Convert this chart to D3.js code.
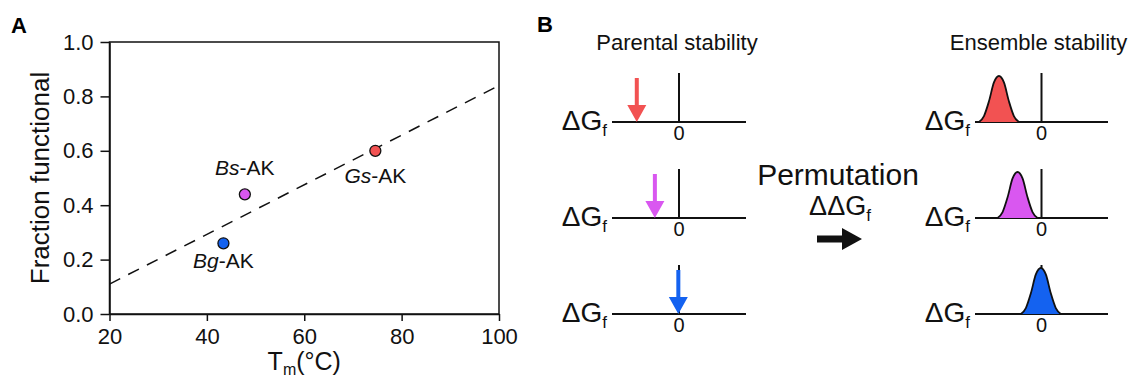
<!DOCTYPE html>
<html>
<head>
<meta charset="utf-8">
<script src="https://cdn.jsdelivr.net/npm/d3@7"></script>
<style>
  html, body { margin: 0; padding: 0; background: #fff; }
  svg { display: block; font-family: "Liberation Sans", Arial, Helvetica, sans-serif; }
</style>
</head>
<body>
<div id="chart"></div>
<script>
// ---- panel A data ----
const strains = ["Bg-AK", "Bs-AK", "Gs-AK"];
const tm = [43.4, 47.8, 74.6];
const fracFunctional = [0.26, 0.44, 0.60];
const strainColors = ["#1462f0", "#d957f0", "#f25252"];
const fitX = [20, 100];
const fitY = [0.11, 0.84];
const xTicks = [20, 40, 60, 80, 100];
const yTicks = [0.0, 0.2, 0.4, 0.6, 0.8, 1.0];

// ---- panel B data (rows top to bottom: Gs, Bs, Bg) ----
const rowStrains = ["Gs-AK", "Bs-AK", "Bg-AK"];
const rowColors = ["#f25252", "#d957f0", "#1462f0"];
const parentalDG = [-0.63, -0.36, -0.01];
const ensembleMean = [-0.64, -0.36, -0.01];
// bump profile: offset from mean, relative height
const bumpOffset = [-0.3, -0.225, -0.15, -0.075, 0, 0.075, 0.15, 0.225, 0.3];
const bumpHeight = [0, 0.13, 0.45, 0.86, 1, 0.86, 0.45, 0.13, 0];

const width = 1129;
const height = 379;

const svg = d3.select("#chart")
    .append("svg")
    .attr("width", width)
    .attr("height", height);

// ================= panel A =================
const plot = { left: 109.5, right: 499, top: 42, bottom: 314 };

const xScale = d3.scaleLinear()
    .domain([20, 100])
    .range([plot.left, plot.right]);

const yScale = d3.scaleLinear()
    .domain([0, 1])
    .range([plot.bottom, plot.top]);

svg.append("text")
    .attr("x", 11)
    .attr("y", 33)
    .attr("font-size", "22px")
    .attr("font-weight", "bold")
    .text("A");

// frame
svg.append("rect")
    .attr("x", plot.left)
    .attr("y", plot.top)
    .attr("width", plot.right - plot.left)
    .attr("height", plot.bottom - plot.top)
    .attr("fill", "none")
    .attr("stroke", "#111")
    .attr("stroke-width", 1.5);

const xAxis = svg.append("g")
    .attr("transform", `translate(0, ${plot.bottom})`)
    .call(d3.axisBottom(xScale).tickValues(xTicks).tickSizeInner(7).tickSizeOuter(0).tickPadding(7));

const yAxis = svg.append("g")
    .attr("transform", `translate(${plot.left}, 0)`)
    .call(d3.axisLeft(yScale).tickValues(yTicks).tickFormat(d3.format(".1f")).tickSizeInner(9).tickSizeOuter(0).tickPadding(7));

[xAxis, yAxis].forEach(ax => {
    ax.select(".domain").attr("stroke", "#111").attr("stroke-width", 1.5);
    ax.selectAll(".tick line").attr("stroke", "#111").attr("stroke-width", 1.5);
    ax.selectAll(".tick text")
        .attr("fill", "#111")
        .attr("font-size", "22px")
        .attr("font-family", "Liberation Sans, Arial, sans-serif");
});

// axis titles
svg.append("text")
    .attr("transform", `translate(49, ${(plot.top + plot.bottom) / 2}) rotate(-90)`)
    .attr("text-anchor", "middle")
    .attr("font-size", "26px")
    .attr("fill", "#111")
    .text("Fraction functional");

const xTitle = svg.append("text")
    .attr("x", (plot.left + plot.right) / 2)
    .attr("y", 370)
    .attr("text-anchor", "middle")
    .attr("font-size", "25px")
    .attr("fill", "#111");
xTitle.append("tspan").text("T");
xTitle.append("tspan").attr("font-size", "16px").attr("dy", 5).text("m");
xTitle.append("tspan").attr("dy", -5).text("(\u00B0C)");

// regression line
const fitLine = d3.line()
    .x(d => xScale(d[0]))
    .y(d => yScale(d[1]));

svg.append("path")
    .datum(d3.zip(fitX, fitY))
    .attr("d", fitLine)
    .attr("fill", "none")
    .attr("stroke", "#111")
    .attr("stroke-width", 1.5)
    .attr("stroke-dasharray", "12,9");

// points
const points = strains.map((s, i) => ({ name: s, x: tm[i], y: fracFunctional[i], color: strainColors[i] }));

svg.selectAll("circle.pt")
    .data(points)
    .enter()
    .append("circle")
    .attr("class", "pt")
    .attr("cx", d => xScale(d.x))
    .attr("cy", d => yScale(d.y))
    .attr("r", 5.5)
    .attr("fill", d => d.color)
    .attr("stroke", "#111")
    .attr("stroke-width", 1.3);

// label offset (px) from each point
const labelDy = { "Bg-AK": 25, "Bs-AK": -19, "Gs-AK": 32 };

points.forEach(p => {
    const parts = p.name.split("-");
    const lbl = svg.append("text")
        .attr("x", xScale(p.x))
        .attr("y", yScale(p.y) + labelDy[p.name])
        .attr("text-anchor", "middle")
        .attr("font-size", "21px")
        .attr("fill", "#111");
    lbl.append("tspan").attr("font-style", "italic").text(parts[0]);
    lbl.append("tspan").text("-" + parts[1]);
});

// ================= panel B =================
svg.append("text")
    .attr("x", 537)
    .attr("y", 32)
    .attr("font-size", "22px")
    .attr("font-weight", "bold")
    .text("B");

const rowScale = d3.scalePoint()
    .domain(d3.range(rowStrains.length))
    .range([122, 314]);

const leftDG = d3.scaleLinear().domain([-1, 1]).range([612, 746]);
const rightDG = d3.scaleLinear().domain([-1, 1]).range([975, 1108]);
const bumpScale = d3.scaleLinear().domain([0, 1]).range([0, -46]);

svg.append("text")
    .attr("x", leftDG(0) - 2)
    .attr("y", 50)
    .attr("text-anchor", "middle")
    .attr("font-size", "22px")
    .attr("fill", "#111")
    .text("Parental stability");

svg.append("text")
    .attr("x", rightDG(0) - 3)
    .attr("y", 50)
    .attr("text-anchor", "middle")
    .attr("font-size", "22px")
    .attr("fill", "#111")
    .text("Ensemble stability");

function drawAxis(g, scale) {
    g.append("line")
        .attr("x1", scale(-1)).attr("x2", scale(1))
        .attr("y1", 0).attr("y2", 0)
        .attr("stroke", "#111").attr("stroke-width", 2);
    g.append("line")
        .attr("x1", scale(0)).attr("x2", scale(0))
        .attr("y1", 0).attr("y2", -49)
        .attr("stroke", "#111").attr("stroke-width", 2);
    g.append("text")
        .attr("x", scale(0))
        .attr("y", 18)
        .attr("text-anchor", "middle")
        .attr("font-size", "20px")
        .attr("fill", "#111")
        .text("0");
    const dg = g.append("text")
        .attr("x", scale(-1) - 5)
        .attr("y", 8)
        .attr("text-anchor", "end")
        .attr("font-size", "28px")
        .attr("fill", "#111");
    dg.append("tspan").text("\u0394G");
    dg.append("tspan").attr("font-size", "17px").attr("dy", 6).text("f");
}

const bumpArea = d3.area()
    .x(d => d.x)
    .y0(0)
    .y1(d => bumpScale(d.h))
    .curve(d3.curveMonotoneX);

const bumpLine = d3.line()
    .x(d => d.x)
    .y(d => bumpScale(d.h))
    .curve(d3.curveMonotoneX);

rowStrains.forEach((s, i) => {
    // parental: arrow pointing at the value
    const gl = svg.append("g").attr("transform", `translate(0, ${rowScale(i)})`);
    drawAxis(gl, leftDG);
    const ax = leftDG(parentalDG[i]);
    const shaft = 2, head = 9.5, headLen = 17, len = 44;
    gl.append("path")
        .attr("d", `M${ax - shaft},${-len} L${ax + shaft},${-len} L${ax + shaft},${-headLen} L${ax + head},${-headLen} L${ax},0 L${ax - head},${-headLen} L${ax - shaft},${-headLen} Z`)
        .attr("fill", rowColors[i]);

    // ensemble: bump around the mean
    const gr = svg.append("g").attr("transform", `translate(0, ${rowScale(i)})`);
    drawAxis(gr, rightDG);
    const pts = bumpOffset.map((o, k) => ({ x: rightDG(ensembleMean[i] + o), h: bumpHeight[k] }));
    gr.append("path")
        .datum(pts)
        .attr("d", bumpArea)
        .attr("fill", rowColors[i]);
    gr.append("path")
        .datum(pts)
        .attr("d", bumpLine)
        .attr("fill", "none")
        .attr("stroke", "#111")
        .attr("stroke-width", 1.8);
});

// middle: permutation arrow
svg.append("text")
    .attr("x", 838)
    .attr("y", 185)
    .attr("text-anchor", "middle")
    .attr("font-size", "30px")
    .attr("fill", "#111")
    .text("Permutation");

const ddg = svg.append("text")
    .attr("x", 840)
    .attr("y", 215)
    .attr("text-anchor", "middle")
    .attr("font-size", "27px")
    .attr("fill", "#111");
ddg.append("tspan").text("\u0394\u0394G");
ddg.append("tspan").attr("font-size", "17px").attr("dy", 6).text("f");

svg.append("path")
    .attr("d", "M817,235.5 L842,235.5 L842,228 L862,239 L842,250 L842,242.5 L817,242.5 Z")
    .attr("fill", "#111");
</script>
</body>
</html>
